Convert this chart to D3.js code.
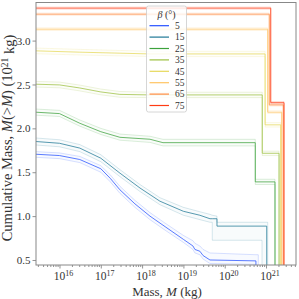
<!DOCTYPE html>
<html>
<head>
<meta charset="utf-8">
<script src="https://cdn.jsdelivr.net/npm/d3@7"></script>
<style>
  body { margin: 0; background: #fff; }
  svg text { font-family: "Liberation Serif", "DejaVu Serif", serif; fill: #333; }
</style>
</head>
<body>
<div id="chart"></div>
<script>
'use strict';

// inclination angles (deg) and their colours
const betas = [5, 15, 25, 35, 45, 55, 65, 75];
const colors = ['#2550ff', '#1f7896', '#3ca23c', '#9cc040', '#e6d85a', '#ffc462', '#ff8c40', '#ff3c14'];

// rows: [mass kg, cumulative mass, lower band, upper band]
const b5 = [
	[2.7e15, 1.705, 1.67, 1.735], [1e16, 1.69, 1.655, 1.72], [3.1e16, 1.645, 1.61, 1.68],
	[1e17, 1.54, 1.50, 1.575], [1.7e17, 1.43, 1.39, 1.47], [2.9e17, 1.30, 1.26, 1.34],
	[6.7e17, 1.14, 1.10, 1.18], [1.55e18, 1.00, 0.96, 1.04], [3.6e18, 0.88, 0.84, 0.92],
	[1e19, 0.735, 0.70, 0.78], [1.7e19, 0.66, 0.62, 0.72], [1.9e19, 0.62, 0.58, 0.69],
	[2.5e19, 0.60, 0.56, 0.66], [3.0e19, 0.55, 0.51, 0.62], [4.4e19, 0.50, 0.46, 0.58],
	[5.7e20, 0.49, 0.45, 0.56], [5.7e20, 0, 0, 0.56], [6.5e20, 0, 0, 0.56], [6.5e20, 0, 0, 0]
];
const b15 = [
	[2.7e15, 1.85, 1.81, 1.89], [1e16, 1.83, 1.79, 1.87], [3.1e16, 1.775, 1.735, 1.815],
	[1e17, 1.66, 1.62, 1.70], [2.9e17, 1.49, 1.45, 1.53], [8.9e17, 1.32, 1.28, 1.36],
	[2.7e18, 1.17, 1.13, 1.21], [1e19, 1.055, 1.01, 1.10], [2.5e19, 1.01, 0.96, 1.05],
	[4.4e19, 0.97, 0.93, 1.02], [5.0e19, 0.97, 0.93, 1.01], [5.0e19, 0.97, 0.725, 1.01],
	[6.5e19, 0.97, 0.725, 1.00], [6.5e19, 0.886, 0.725, 0.93], [8.0e20, 0.886, 0.725, 0.93],
	[8.0e20, 0.886, 0, 0.93], [1.04e21, 0.886, 0, 0.93], [1.04e21, 0, 0, 0.93],
	[1.1e21, 0, 0, 0.93], [1.1e21, 0, 0, 0]
];
const b25 = [
	[2.7e15, 2.184, 2.15, 2.22], [1e16, 2.168, 2.135, 2.205], [3.1e16, 2.058, 2.025, 2.095],
	[1e17, 1.962, 1.93, 2.0], [2.9e17, 1.898, 1.865, 1.935], [1.55e18, 1.876, 1.84, 1.91],
	[3.2e18, 1.837, 1.80, 1.875], [5.5e20, 1.837, 1.80, 1.875], [5.5e20, 1.39, 1.36, 1.42],
	[1.65e21, 1.39, 1.36, 1.42], [1.65e21, 0, 0, 0]
];
const b35 = [
	[2.7e15, 2.503, 2.47, 2.535], [1e16, 2.495, 2.462, 2.527], [3.1e16, 2.46, 2.427, 2.493],
	[1e17, 2.415, 2.382, 2.448], [2.9e17, 2.387, 2.354, 2.42], [1.55e18, 2.381, 2.35, 2.412],
	[8.1e20, 2.381, 2.35, 2.412], [8.1e20, 1.716, 1.69, 1.74], [2.07e21, 1.716, 1.69, 1.74],
	[2.07e21, 0, 0, 0]
];
const b45 = [
	[2.7e15, 2.883, 2.85, 2.915], [3.1e16, 2.868, 2.836, 2.9], [1.55e18, 2.848, 2.818, 2.878],
	[9.5e20, 2.848, 2.818, 2.878], [9.5e20, 2.04, 2.015, 2.065], [2.27e21, 2.04, 2.015, 2.065],
	[2.27e21, 0, 0, 0]
];
const b55 = [
	[2.7e15, 3.13, 3.115, 3.145], [1.10e21, 3.13, 3.115, 3.145], [1.10e21, 2.184, 2.17, 2.2],
	[2.40e21, 2.184, 2.17, 2.2], [2.40e21, 0, 0, 0]
];
const b65 = [
	[2.7e15, 3.301, 3.289, 3.313], [1.20e21, 3.301, 3.289, 3.313], [1.20e21, 2.267, 2.255, 2.279],
	[2.62e21, 2.267, 2.255, 2.279], [2.62e21, 0, 0, 0]
];
const b75 = [
	[2.7e15, 3.37, 3.358, 3.382], [1.30e21, 3.37, 3.358, 3.382], [1.30e21, 2.293, 2.281, 2.305],
	[2.73e21, 2.293, 2.281, 2.305], [2.73e21, 0, 0, 0]
];
const series = [b5, b15, b25, b35, b45, b55, b65, b75];

const yTicks = [0.5, 1.0, 1.5, 2.0, 2.5, 3.0];
const xTicks = [1e16, 1e17, 1e18, 1e19, 1e20, 1e21];

const W = 299, H = 299;
const margin = {top: 2.5, right: 3, bottom: 34, left: 36};

const svg = d3.select('#chart').append('svg')
	.attr('width', W)
	.attr('height', H);

const x = d3.scaleLog()
	.domain([2.7e15, 5.32e21])
	.range([margin.left, W - margin.right]);
const y = d3.scaleLinear()
	.domain([0.443, 3.434])
	.range([H - margin.bottom, margin.top]);

svg.append('clipPath').attr('id', 'clip')
	.append('rect')
	.attr('x', margin.left).attr('y', margin.top)
	.attr('width', W - margin.left - margin.right)
	.attr('height', H - margin.top - margin.bottom);

const plot = svg.append('g').attr('clip-path', 'url(#clip)');

const band = d3.area().x(d => x(d[0])).y0(d => y(d[2])).y1(d => y(d[3]));
const mid = d3.line().x(d => x(d[0])).y(d => y(d[1]));
const lo = d3.line().x(d => x(d[0])).y(d => y(d[2]));
const hi = d3.line().x(d => x(d[0])).y(d => y(d[3]));

series.forEach(function(s, i) {
	const g = plot.append('g');
	g.append('path').attr('d', band(s))
		.attr('fill', colors[i]).attr('fill-opacity', 0.03).attr('stroke', 'none');
	[lo, hi].forEach(function(fn) {
		g.append('path').attr('d', fn(s))
			.attr('fill', 'none').attr('stroke', colors[i])
			.attr('stroke-opacity', 0.22).attr('stroke-width', 0.8);
	});
	g.append('path').attr('d', mid(s))
		.attr('fill', 'none').attr('stroke', colors[i])
		.attr('stroke-opacity', 0.75).attr('stroke-width', 1);
});

// axes
const bottom = H - margin.bottom;
const minor = [];
for (let e = 15; e <= 21; e++) {
	for (let k = 2; k <= 9; k++) {
		const v = k * Math.pow(10, e);
		if (v > x.domain()[0] && v < x.domain()[1]) minor.push(v);
	}
}

const xMinor = svg.append('g').attr('transform', 'translate(0,' + bottom + ')')
	.call(d3.axisBottom(x).tickValues(minor).tickSize(2).tickFormat(''));
const xAxis = svg.append('g').attr('transform', 'translate(0,' + bottom + ')')
	.call(d3.axisBottom(x).tickValues(xTicks).tickSize(3.5).tickPadding(3));
xAxis.selectAll('text').each(function(d) {
	const t = d3.select(this).text('');
	t.append('tspan').text('10');
	t.append('tspan').attr('dy', '-0.5em').attr('font-size', '8px')
		.text(Math.round(Math.log10(d)));
});
xAxis.selectAll('text').attr('font-size', '11.5px').attr('dx', '0.3em');

const yAxis = svg.append('g').attr('transform', 'translate(' + margin.left + ',0)')
	.call(d3.axisLeft(y).tickValues(yTicks).tickSize(3.5).tickPadding(2).tickFormat(d3.format('.1f')));
yAxis.selectAll('text').attr('font-size', '11px');

[xMinor, xAxis, yAxis].forEach(function(a) {
	a.select('.domain').remove();
	a.selectAll('line').attr('stroke', '#777').attr('stroke-width', 0.8);
});

// frame
svg.append('rect')
	.attr('x', margin.left).attr('y', margin.top)
	.attr('width', W - margin.left - margin.right)
	.attr('height', H - margin.top - margin.bottom)
	.attr('fill', 'none').attr('stroke', '#888').attr('stroke-width', 1);

// axis labels
const xl = svg.append('text')
	.attr('x', 167)
	.attr('y', 296)
	.attr('text-anchor', 'middle')
	.attr('font-size', '13px');
xl.append('tspan').text('Mass, ');
xl.append('tspan').attr('font-style', 'italic').text('M');
xl.append('tspan').text(' (kg)');

const yl = svg.append('text')
	.attr('transform', 'translate(12,138) rotate(-90)')
	.attr('text-anchor', 'middle')
	.attr('font-size', '14.5px');
yl.append('tspan').text('Cumulative Mass, ');
yl.append('tspan').attr('font-style', 'italic').text('M');
yl.append('tspan').text('(>');
yl.append('tspan').attr('font-style', 'italic').text('M');
yl.append('tspan').text(') (10');
yl.append('tspan').attr('dy', '-0.45em').attr('font-size', '9.5px').text('21');
yl.append('tspan').attr('dy', '0.45em').text(' kg)');

// legend
const leg = svg.append('g');
leg.append('rect')
	.attr('x', 146.5).attr('y', 6).attr('width', 40).attr('height', 106).attr('rx', 2)
	.attr('fill', '#fff').attr('fill-opacity', 0.8)
	.attr('stroke', '#ccc').attr('stroke-width', 0.8);
const lt = leg.append('text')
	.attr('x', 166.5).attr('y', 18)
	.attr('text-anchor', 'middle')
	.attr('font-size', '10px');
lt.append('tspan').attr('font-style', 'italic').text('β');
lt.append('tspan').text(' (°)');

betas.forEach(function(b, i) {
	const ly = 25.7 + i * 11.4;
	leg.append('line')
		.attr('x1', 149.5).attr('x2', 169).attr('y1', ly).attr('y2', ly)
		.attr('stroke', colors[i]).attr('stroke-width', 1.2);
	leg.append('text')
		.attr('x', 175).attr('y', ly)
		.attr('dy', '0.35em')
		.attr('font-size', '9.5px')
		.text(b);
});
</script>
</body>
</html>
